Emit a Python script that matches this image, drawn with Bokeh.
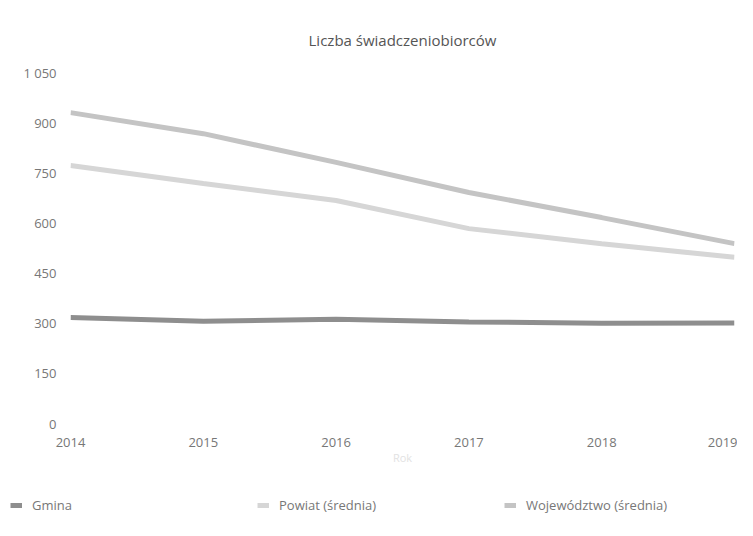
from bokeh.plotting import figure
from bokeh.layouts import column
from bokeh.models import ColumnDataSource, FixedTicker, Legend, LegendItem, Range1d
from bokeh.embed import file_html
from bokeh.resources import INLINE

years = [2014, 2015, 2016, 2017, 2018, 2019]
gmina = [317, 306, 312, 304, 300, 301]
powiat = [772, 718, 667, 583, 538, 497]
wojewodztwo = [930, 867, 781, 691, 616, 538]
y_ticks = [0, 150, 300, 450, 600, 750, 900, 1050]
y_tick_labels = {0: "0", 150: "150", 300: "300", 450: "450", 600: "600",
                 750: "750", 900: "900", 1050: "1 050"}
series_labels = ["Gmina", "Powiat (średnia)", "Województwo (średnia)"]
series_colors = ["#8e8e8e", "#d6d6d6", "#c4c4c4"]

src = ColumnDataSource(dict(x=years, g=gmina, p=powiat, w=wojewodztwo))

FONT = "Open Sans"
W = 737
LEFT = 70
p = figure(width=W, height=478, output_backend="svg", toolbar_location=None,
           x_range=Range1d(2014, 2019), y_range=Range1d(0, 1050),
           min_border_left=LEFT, min_border_right=3, min_border_top=72,
           min_border_bottom=55)
p.frame_align = False
p.title.text = "Liczba świadczeniobiorców"
p.title.align = "center"
p.title.text_font = FONT
p.title.text_font_size = "15px"
p.title.text_font_style = "normal"
p.title.text_color = "#555555"
p.title.standoff = 45
p.outline_line_color = None
p.xgrid.visible = False
p.ygrid.visible = False

for ax in (p.xaxis[0], p.yaxis[0]):
    ax.axis_line_color = None
    ax.major_tick_line_color = None
    ax.minor_tick_line_color = None
    ax.major_label_text_font = FONT
    ax.major_label_text_font_size = "13px"
    ax.major_label_text_color = "#777777"

p.xaxis.ticker = FixedTicker(ticks=years)
p.xaxis.major_label_standoff = 8
p.xaxis.axis_label = "Rok"
p.xaxis.axis_label_text_font = FONT
p.xaxis.axis_label_text_font_size = "11px"
p.xaxis.axis_label_text_font_style = "normal"
p.xaxis.axis_label_text_color = "#e2e2e2"
p.xaxis.axis_label_standoff = 0

p.yaxis.ticker = FixedTicker(ticks=y_ticks)
p.yaxis.major_label_overrides = y_tick_labels
p.yaxis.major_label_standoff = 8

p.line("x", "w", source=src, line_color=series_colors[2], line_width=5)
p.line("x", "p", source=src, line_color=series_colors[1], line_width=5)
p.line("x", "g", source=src, line_color=series_colors[0], line_width=5)

# legend strip below the chart, its frame spanning the full width
lf = figure(width=W, height=42, output_backend="svg", toolbar_location=None,
            x_range=Range1d(2014, 2019), y_range=Range1d(5000, 6000),
            x_axis_location=None, y_axis_location=None, min_border=0)
lf.frame_align = False
lf.outline_line_color = None
lf.xgrid.visible = False
lf.ygrid.visible = False
rg = lf.line("x", "g", source=src, line_color=series_colors[0], line_width=5)
rp = lf.line("x", "p", source=src, line_color=series_colors[1], line_width=5)
rw = lf.line("x", "w", source=src, line_color=series_colors[2], line_width=5)
lg = Legend(items=[LegendItem(label=series_labels[0], renderers=[rg]),
                   LegendItem(label=series_labels[1], renderers=[rp]),
                   LegendItem(label=series_labels[2], renderers=[rw])],
            location=(10, 6), orientation="horizontal",
            background_fill_alpha=0, border_line_color=None,
            label_text_font=FONT, label_text_font_size="13px",
            label_text_color="#777777", glyph_width=12, glyph_height=8,
            label_standoff=10, label_width=220, spacing=5, padding=0, margin=0)
lf.add_layout(lg, "center")

open("out.html", "w").write(file_html(column(p, lf, spacing=0), INLINE))
